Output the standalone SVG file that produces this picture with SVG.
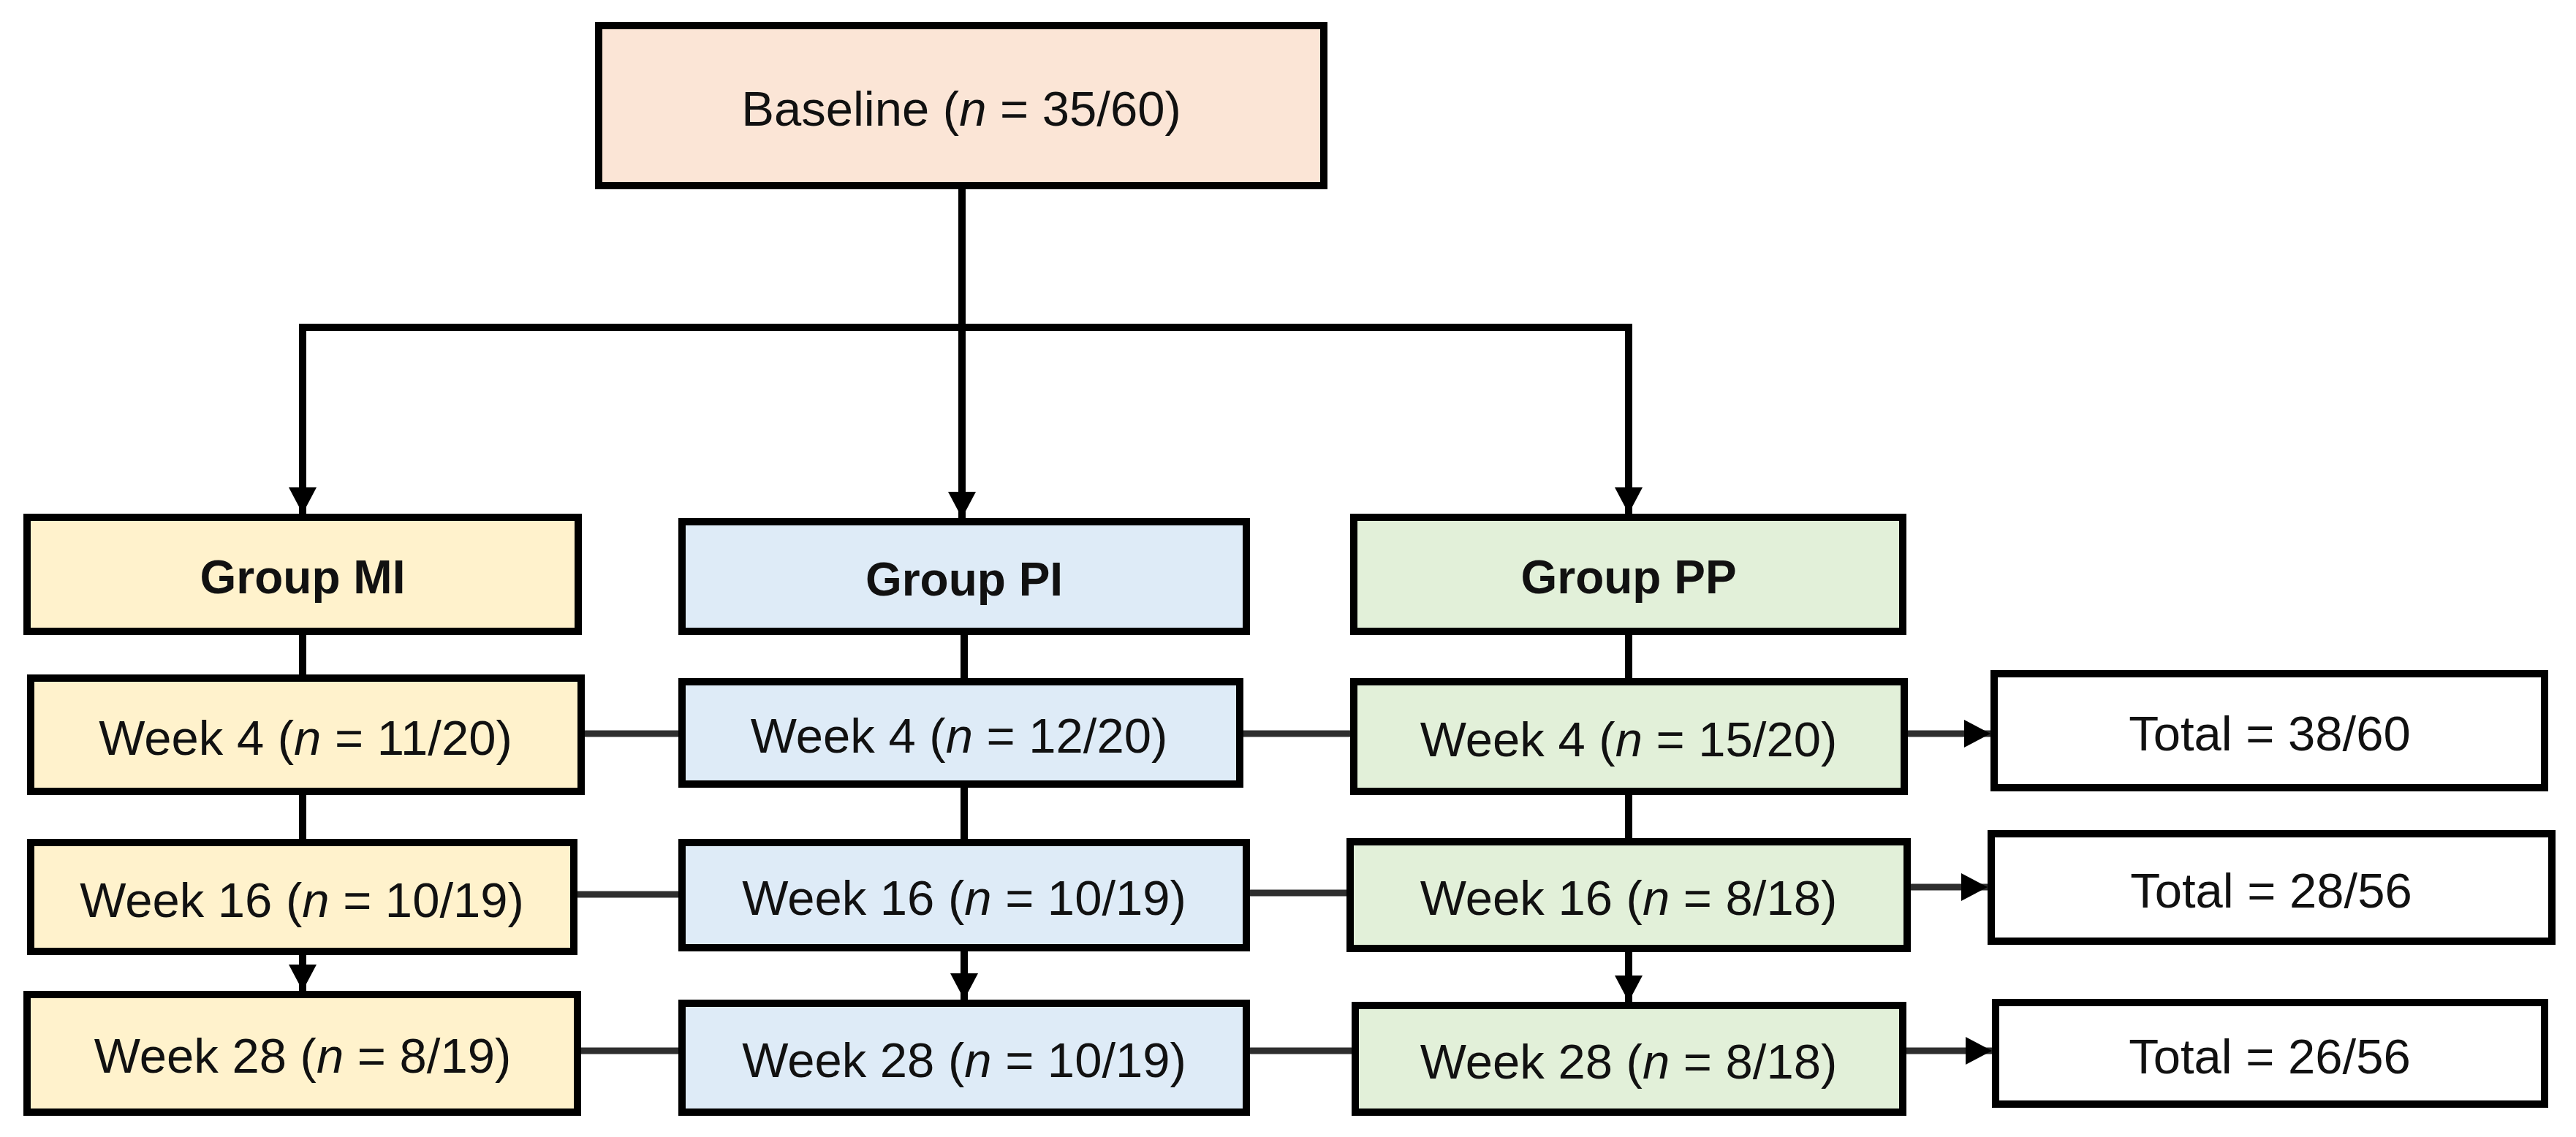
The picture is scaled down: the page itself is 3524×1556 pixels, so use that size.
<svg xmlns="http://www.w3.org/2000/svg" width="3524" height="1556" viewBox="0 0 3524 1556">
<style>
.box{stroke:#000;stroke-width:10}
.base{fill:#FBE5D6}
.mi{fill:#FFF2CC}
.pi{fill:#DEEBF7}
.pp{fill:#E2F0D9}
.tot{fill:#FFFFFF}
text{font-family:"Liberation Sans",Arial,sans-serif;font-size:67px;fill:#111;text-anchor:middle}
.bold{font-weight:bold;font-size:64px}
.i{font-style:italic}
.conn{fill:none;stroke:#000;stroke-width:10}
.row{fill:none;stroke:#2e2e2e;stroke-width:9}
</style>
<defs>
<marker id="arr" markerUnits="userSpaceOnUse" markerWidth="36" markerHeight="38" refX="36" refY="19" orient="auto">
<path d="M0,0 L36,19 L0,38 z" fill="#000"/>
</marker>
</defs>
<rect width="3524" height="1556" fill="#fff"/>
<g id="connectors">
<path class="conn" d="M1316,259 V709" marker-end="url(#arr)"/>
<path class="conn" d="M414,448 H2228" stroke-linecap="square"/>
<path class="conn" d="M414,448 V703" marker-end="url(#arr)"/>
<path class="conn" d="M2228,448 V703" marker-end="url(#arr)"/>
<path class="conn" d="M414,869 V923"/>
<path class="conn" d="M414,1088 V1148"/>
<path class="conn" d="M414,1307 V1356" marker-end="url(#arr)"/>
<path class="conn" d="M1319,869 V928"/>
<path class="conn" d="M1319,1078 V1148"/>
<path class="conn" d="M1319,1302 V1368" marker-end="url(#arr)"/>
<path class="conn" d="M2228,869 V928"/>
<path class="conn" d="M2228,1088 V1147"/>
<path class="conn" d="M2228,1303 V1371" marker-end="url(#arr)"/>
<path class="row" d="M800,1004 H928"/>
<path class="row" d="M1701,1004 H1847"/>
<path class="row" d="M2610,1004 H2723" marker-end="url(#arr)"/>
<path class="row" d="M790,1224 H928"/>
<path class="row" d="M1710,1222 H1842"/>
<path class="row" d="M2614,1214 H2719" marker-end="url(#arr)"/>
<path class="row" d="M795,1438 H928"/>
<path class="row" d="M1710,1438 H1849"/>
<path class="row" d="M2608,1438 H2725" marker-end="url(#arr)"/>
</g>
<g id="baseline">
<rect class="box base" x="819" y="35" width="992" height="219"/>
<text x="1315" y="172">Baseline (<tspan class="i">n</tspan> = 35/60)</text>
</g>
<g id="group-mi">
<rect class="box mi" x="37" y="708" width="754" height="156"/>
<text class="bold" x="414" y="812">Group MI</text>
</g>
<g id="mi-week4">
<rect class="box mi" x="42" y="928" width="753" height="155"/>
<text x="418" y="1033">Week 4 (<tspan class="i">n</tspan> = 11/20)</text>
</g>
<g id="mi-week16">
<rect class="box mi" x="42" y="1153" width="743" height="149"/>
<text x="413" y="1255">Week 16 (<tspan class="i">n</tspan> = 10/19)</text>
</g>
<g id="mi-week28">
<rect class="box mi" x="37" y="1361" width="753" height="161"/>
<text x="414" y="1468">Week 28 (<tspan class="i">n</tspan> = 8/19)</text>
</g>
<g id="group-pi">
<rect class="box pi" x="933" y="714" width="772" height="150"/>
<text class="bold" x="1319" y="815">Group PI</text>
</g>
<g id="pi-week4">
<rect class="box pi" x="933" y="933" width="763" height="140"/>
<text x="1312" y="1030">Week 4 (<tspan class="i">n</tspan> = 12/20)</text>
</g>
<g id="pi-week16">
<rect class="box pi" x="933" y="1153" width="772" height="144"/>
<text x="1319" y="1252">Week 16 (<tspan class="i">n</tspan> = 10/19)</text>
</g>
<g id="pi-week28">
<rect class="box pi" x="933" y="1373" width="772" height="149"/>
<text x="1319" y="1474">Week 28 (<tspan class="i">n</tspan> = 10/19)</text>
</g>
<g id="group-pp">
<rect class="box pp" x="1852" y="708" width="751" height="156"/>
<text class="bold" x="2228" y="812">Group PP</text>
</g>
<g id="pp-week4">
<rect class="box pp" x="1852" y="933" width="753" height="150"/>
<text x="2228" y="1035">Week 4 (<tspan class="i">n</tspan> = 15/20)</text>
</g>
<g id="pp-week16">
<rect class="box pp" x="1847" y="1152" width="762" height="146"/>
<text x="2228" y="1252">Week 16 (<tspan class="i">n</tspan> = 8/18)</text>
</g>
<g id="pp-week28">
<rect class="box pp" x="1854" y="1376" width="749" height="146"/>
<text x="2228" y="1476">Week 28 (<tspan class="i">n</tspan> = 8/18)</text>
</g>
<g id="total-week4">
<rect class="box tot" x="2728" y="922" width="753" height="156"/>
<text x="3105" y="1027">Total = 38/60</text>
</g>
<g id="total-week16">
<rect class="box tot" x="2724" y="1141" width="767" height="147"/>
<text x="3107" y="1242">Total = 28/56</text>
</g>
<g id="total-week28">
<rect class="box tot" x="2730" y="1372" width="751" height="139"/>
<text x="3105" y="1469">Total = 26/56</text>
</g>
</svg>
